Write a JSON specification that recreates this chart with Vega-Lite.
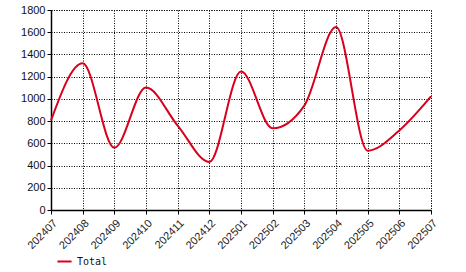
{
  "$schema": "https://vega.github.io/schema/vega-lite/v6.json",
  "width": 380,
  "height": 200,
  "autosize": {"type": "none"},
  "padding": {"left": 51, "top": 10, "right": 35, "bottom": 62},
  "background": "white",
  "data": {"values": [
    {"month": "202407", "value": 806, "series": "Total"},
    {"month": "202408", "value": 1320, "series": "Total"},
    {"month": "202409", "value": 560, "series": "Total"},
    {"month": "202410", "value": 1102, "series": "Total"},
    {"month": "202411", "value": 760, "series": "Total"},
    {"month": "202412", "value": 432, "series": "Total"},
    {"month": "202501", "value": 1246, "series": "Total"},
    {"month": "202502", "value": 735, "series": "Total"},
    {"month": "202503", "value": 940, "series": "Total"},
    {"month": "202504", "value": 1646, "series": "Total"},
    {"month": "202505", "value": 534, "series": "Total"},
    {"month": "202506", "value": 716, "series": "Total"},
    {"month": "202507", "value": 1022, "series": "Total"}
  ]},
  "mark": {"type": "line", "interpolate": "monotone", "strokeWidth": 2},
  "encoding": {
    "x": {
      "field": "month", "type": "ordinal", "title": null,
      "scale": {"type": "point", "padding": 0},
      "axis": {
        "labelAngle": -45, "labelFont": "Liberation Sans", "labelFontSize": 11, "labelColor": "#222",
        "domainColor": "black", "domainWidth": 1.5, "tickColor": "black", "tickSize": 4,
        "grid": true, "gridColor": "black", "gridDash": [1, 1.5], "gridOpacity": 1, "gridWidth": 1,
        "labelPadding": 3
      }
    },
    "y": {
      "field": "value", "type": "quantitative", "title": null,
      "scale": {"domain": [0, 1800], "nice": false},
      "axis": {
        "values": [0, 200, 400, 600, 800, 1000, 1200, 1400, 1600, 1800],
        "format": "d",
        "labelFont": "Liberation Sans", "labelFontSize": 11, "labelColor": "#111",
        "domainColor": "black", "domainWidth": 1.5, "tickColor": "black", "tickSize": 4,
        "grid": true, "gridColor": "black", "gridDash": [1, 1.5], "gridOpacity": 1, "gridWidth": 1,
        "labelPadding": 2
      }
    },
    "color": {
      "field": "series", "type": "nominal",
      "scale": {"range": ["#d9001b"]},
      "legend": {
        "title": null, "orient": "none", "legendX": 5, "legendY": 243,
        "symbolType": "stroke", "symbolStrokeWidth": 2, "symbolSize": 200,
        "labelFont": "DejaVu Sans Mono", "labelFontSize": 10, "labelColor": "#111"
      }
    }
  },
  "config": {
    "view": {"stroke": "black", "strokeDash": [1, 1.5], "strokeWidth": 1}
  }
}
